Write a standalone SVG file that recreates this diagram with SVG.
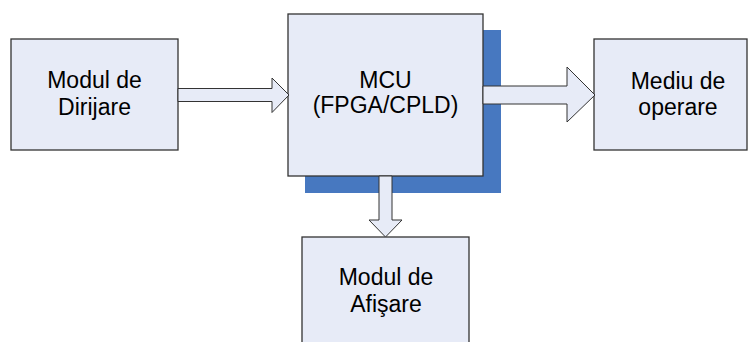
<svg xmlns="http://www.w3.org/2000/svg" width="749" height="342" viewBox="0 0 749 342">
<style>
.box{fill:#E7EBF7;stroke:#333333;stroke-width:1.3}
.arrow{fill:#E7EBF7;stroke:#333333;stroke-width:1}
.shadow{fill:#4778C0}
text{font-family:"Liberation Sans",Arial,sans-serif;font-size:23px;fill:#000;text-anchor:middle}
</style>
<rect width="749" height="342" fill="#FFFFFF"/>
<g id="mcu-shadow"><rect class="shadow" x="305" y="30" width="196" height="163"/></g>
<g id="dirijare">
<rect class="box" x="11" y="39" width="167" height="111"/>
<text x="94.5" y="88">Modul de</text>
<text x="94.5" y="115">Dirijare</text>
</g>
<g id="mediu">
<rect class="box" x="594" y="39" width="153" height="111"/>
<text x="678" y="89">Mediu de</text>
<text x="678" y="115">operare</text>
</g>
<g id="afisare">
<rect class="box" x="302" y="237" width="167" height="120"/>
<text x="386" y="285">Modul de</text>
<text x="386" y="312">Afişare</text>
</g>
<g id="mcu">
<rect class="box" x="288" y="14" width="195" height="162"/>
<text x="385.5" y="88">MCU</text>
<text x="385.5" y="113">(FPGA/CPLD)</text>
</g>
<g id="connectors">
<path class="arrow" d="M178,88.5 H272 V78 L289,95 L272,112.5 V101.5 H178 Z"/>
<path class="arrow" d="M483,86 H567 V67 L595,95 L567,122 V104 H483 Z"/>
<path class="arrow" d="M379,176 V220 H369 L385.5,237 L402,220 H392 V176 Z"/>
</g>
</svg>
